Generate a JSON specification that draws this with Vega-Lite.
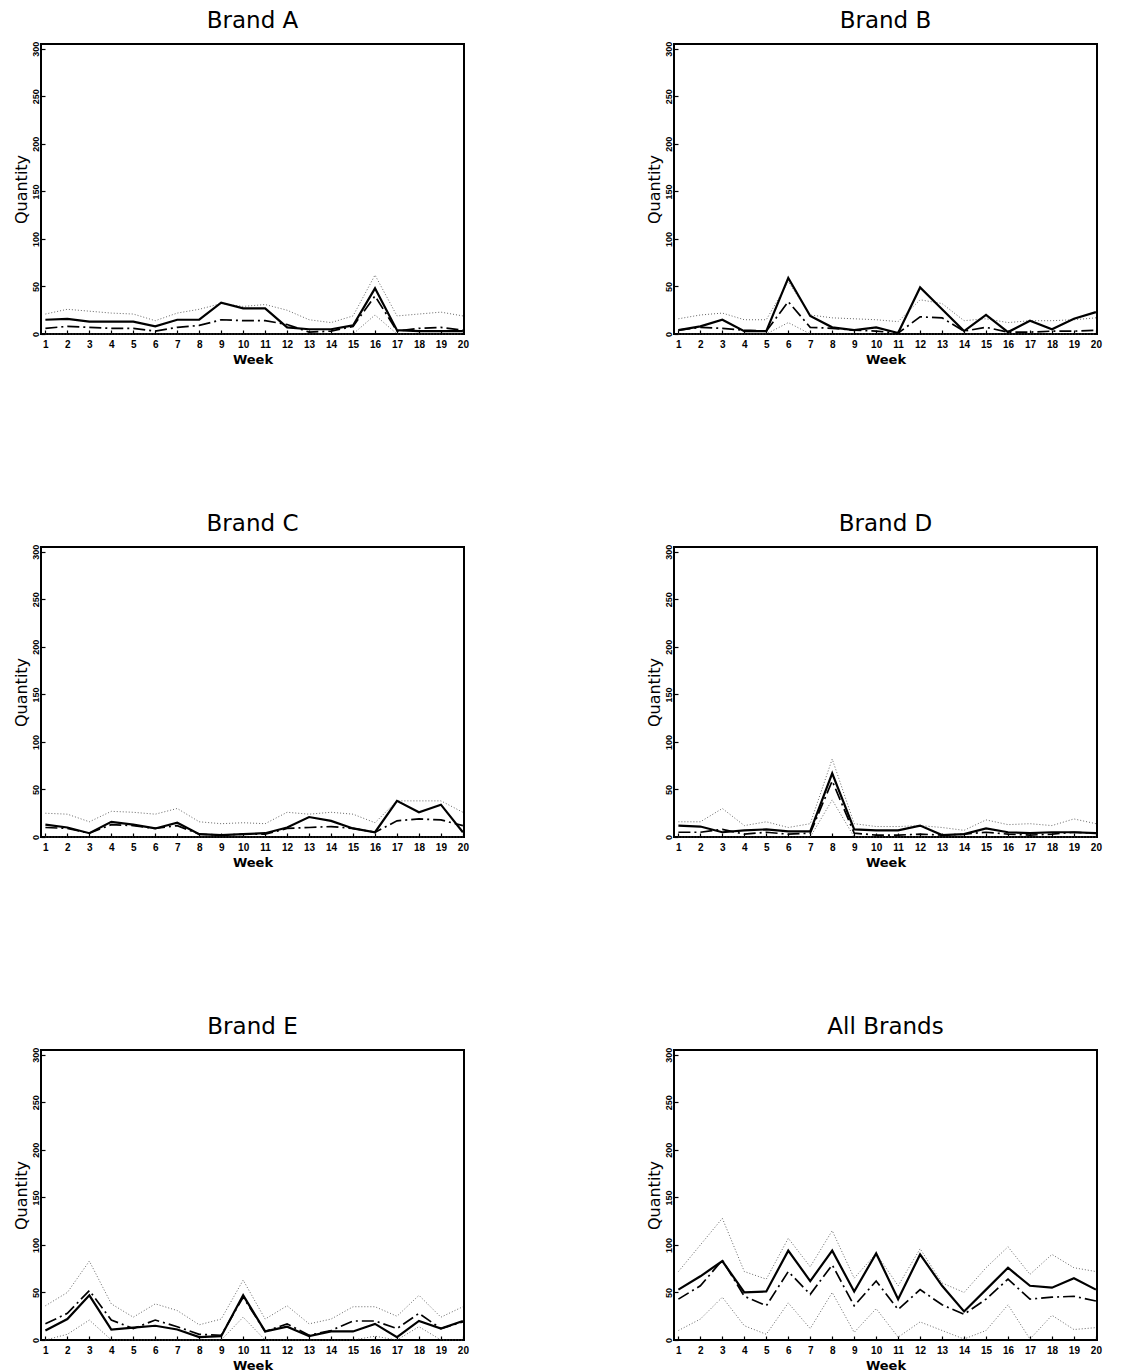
{
  "$schema": "https://vega.github.io/schema/vega-lite/v6.json",
  "background": "white",
  "padding": {"left": 12, "top": 9, "right": 5, "bottom": 1},
  "columns": 2,
  "spacing": {"row": 145, "column": 175},
  "datasets": {
    "series": [
      {"brand":"A","week":1,"actual":15,"forecast":6,"upper":21,"lower":0},
      {"brand":"A","week":2,"actual":16,"forecast":8,"upper":26,"lower":0},
      {"brand":"A","week":3,"actual":13,"forecast":7,"upper":24,"lower":0},
      {"brand":"A","week":4,"actual":13,"forecast":6,"upper":22,"lower":0},
      {"brand":"A","week":5,"actual":13,"forecast":6,"upper":21,"lower":0},
      {"brand":"A","week":6,"actual":8,"forecast":3,"upper":14,"lower":0},
      {"brand":"A","week":7,"actual":15,"forecast":7,"upper":22,"lower":0},
      {"brand":"A","week":8,"actual":15,"forecast":9,"upper":26,"lower":0},
      {"brand":"A","week":9,"actual":33,"forecast":15,"upper":32,"lower":0},
      {"brand":"A","week":10,"actual":27,"forecast":14,"upper":29,"lower":0},
      {"brand":"A","week":11,"actual":27,"forecast":14,"upper":31,"lower":0},
      {"brand":"A","week":12,"actual":7,"forecast":10,"upper":25,"lower":0},
      {"brand":"A","week":13,"actual":5,"forecast":2,"upper":15,"lower":0},
      {"brand":"A","week":14,"actual":5,"forecast":3,"upper":12,"lower":0},
      {"brand":"A","week":15,"actual":9,"forecast":8,"upper":19,"lower":0},
      {"brand":"A","week":16,"actual":48,"forecast":40,"upper":62,"lower":20},
      {"brand":"A","week":17,"actual":4,"forecast":3,"upper":19,"lower":0},
      {"brand":"A","week":18,"actual":3,"forecast":6,"upper":21,"lower":0},
      {"brand":"A","week":19,"actual":3,"forecast":7,"upper":23,"lower":0},
      {"brand":"A","week":20,"actual":3,"forecast":4,"upper":19,"lower":0},
      {"brand":"B","week":1,"actual":4,"forecast":4,"upper":16,"lower":0},
      {"brand":"B","week":2,"actual":8,"forecast":7,"upper":20,"lower":0},
      {"brand":"B","week":3,"actual":15,"forecast":6,"upper":22,"lower":0},
      {"brand":"B","week":4,"actual":3,"forecast":4,"upper":15,"lower":0},
      {"brand":"B","week":5,"actual":3,"forecast":3,"upper":15,"lower":0},
      {"brand":"B","week":6,"actual":59,"forecast":34,"upper":55,"lower":12},
      {"brand":"B","week":7,"actual":19,"forecast":7,"upper":20,"lower":0},
      {"brand":"B","week":8,"actual":7,"forecast":6,"upper":17,"lower":0},
      {"brand":"B","week":9,"actual":4,"forecast":4,"upper":16,"lower":0},
      {"brand":"B","week":10,"actual":7,"forecast":3,"upper":15,"lower":0},
      {"brand":"B","week":11,"actual":1,"forecast":1,"upper":13,"lower":0},
      {"brand":"B","week":12,"actual":49,"forecast":18,"upper":36,"lower":0},
      {"brand":"B","week":13,"actual":26,"forecast":17,"upper":32,"lower":0},
      {"brand":"B","week":14,"actual":3,"forecast":3,"upper":14,"lower":0},
      {"brand":"B","week":15,"actual":20,"forecast":7,"upper":16,"lower":0},
      {"brand":"B","week":16,"actual":2,"forecast":2,"upper":12,"lower":0},
      {"brand":"B","week":17,"actual":14,"forecast":2,"upper":14,"lower":0},
      {"brand":"B","week":18,"actual":5,"forecast":3,"upper":14,"lower":0},
      {"brand":"B","week":19,"actual":16,"forecast":3,"upper":15,"lower":0},
      {"brand":"B","week":20,"actual":23,"forecast":4,"upper":17,"lower":0},
      {"brand":"C","week":1,"actual":13,"forecast":10,"upper":25,"lower":0},
      {"brand":"C","week":2,"actual":10,"forecast":9,"upper":24,"lower":0},
      {"brand":"C","week":3,"actual":4,"forecast":4,"upper":16,"lower":0},
      {"brand":"C","week":4,"actual":16,"forecast":13,"upper":27,"lower":0},
      {"brand":"C","week":5,"actual":13,"forecast":12,"upper":26,"lower":0},
      {"brand":"C","week":6,"actual":9,"forecast":9,"upper":24,"lower":0},
      {"brand":"C","week":7,"actual":15,"forecast":12,"upper":30,"lower":0},
      {"brand":"C","week":8,"actual":3,"forecast":3,"upper":16,"lower":0},
      {"brand":"C","week":9,"actual":2,"forecast":2,"upper":14,"lower":0},
      {"brand":"C","week":10,"actual":3,"forecast":3,"upper":15,"lower":0},
      {"brand":"C","week":11,"actual":4,"forecast":3,"upper":14,"lower":0},
      {"brand":"C","week":12,"actual":10,"forecast":9,"upper":26,"lower":0},
      {"brand":"C","week":13,"actual":21,"forecast":10,"upper":24,"lower":0},
      {"brand":"C","week":14,"actual":17,"forecast":11,"upper":26,"lower":0},
      {"brand":"C","week":15,"actual":9,"forecast":9,"upper":24,"lower":0},
      {"brand":"C","week":16,"actual":5,"forecast":5,"upper":15,"lower":0},
      {"brand":"C","week":17,"actual":38,"forecast":17,"upper":38,"lower":0},
      {"brand":"C","week":18,"actual":26,"forecast":19,"upper":38,"lower":0},
      {"brand":"C","week":19,"actual":34,"forecast":18,"upper":38,"lower":0},
      {"brand":"C","week":20,"actual":5,"forecast":12,"upper":26,"lower":0},
      {"brand":"D","week":1,"actual":12,"forecast":5,"upper":16,"lower":0},
      {"brand":"D","week":2,"actual":11,"forecast":5,"upper":16,"lower":0},
      {"brand":"D","week":3,"actual":5,"forecast":8,"upper":30,"lower":0},
      {"brand":"D","week":4,"actual":7,"forecast":3,"upper":12,"lower":0},
      {"brand":"D","week":5,"actual":8,"forecast":5,"upper":16,"lower":0},
      {"brand":"D","week":6,"actual":6,"forecast":3,"upper":10,"lower":0},
      {"brand":"D","week":7,"actual":6,"forecast":4,"upper":14,"lower":0},
      {"brand":"D","week":8,"actual":67,"forecast":59,"upper":82,"lower":39},
      {"brand":"D","week":9,"actual":8,"forecast":4,"upper":14,"lower":0},
      {"brand":"D","week":10,"actual":7,"forecast":2,"upper":11,"lower":0},
      {"brand":"D","week":11,"actual":7,"forecast":2,"upper":11,"lower":0},
      {"brand":"D","week":12,"actual":12,"forecast":3,"upper":12,"lower":0},
      {"brand":"D","week":13,"actual":2,"forecast":2,"upper":10,"lower":0},
      {"brand":"D","week":14,"actual":3,"forecast":3,"upper":7,"lower":0},
      {"brand":"D","week":15,"actual":9,"forecast":5,"upper":18,"lower":0},
      {"brand":"D","week":16,"actual":5,"forecast":3,"upper":13,"lower":0},
      {"brand":"D","week":17,"actual":4,"forecast":2,"upper":14,"lower":0},
      {"brand":"D","week":18,"actual":5,"forecast":3,"upper":12,"lower":0},
      {"brand":"D","week":19,"actual":5,"forecast":5,"upper":19,"lower":0},
      {"brand":"D","week":20,"actual":4,"forecast":4,"upper":14,"lower":0},
      {"brand":"E","week":1,"actual":10,"forecast":17,"upper":36,"lower":0},
      {"brand":"E","week":2,"actual":22,"forecast":28,"upper":50,"lower":6},
      {"brand":"E","week":3,"actual":47,"forecast":52,"upper":83,"lower":21},
      {"brand":"E","week":4,"actual":11,"forecast":21,"upper":38,"lower":0},
      {"brand":"E","week":5,"actual":13,"forecast":12,"upper":24,"lower":0},
      {"brand":"E","week":6,"actual":15,"forecast":21,"upper":38,"lower":0},
      {"brand":"E","week":7,"actual":11,"forecast":14,"upper":31,"lower":0},
      {"brand":"E","week":8,"actual":3,"forecast":6,"upper":16,"lower":0},
      {"brand":"E","week":9,"actual":4,"forecast":5,"upper":22,"lower":0},
      {"brand":"E","week":10,"actual":47,"forecast":45,"upper":63,"lower":24},
      {"brand":"E","week":11,"actual":9,"forecast":9,"upper":22,"lower":0},
      {"brand":"E","week":12,"actual":14,"forecast":17,"upper":36,"lower":0},
      {"brand":"E","week":13,"actual":4,"forecast":5,"upper":17,"lower":0},
      {"brand":"E","week":14,"actual":9,"forecast":10,"upper":22,"lower":0},
      {"brand":"E","week":15,"actual":9,"forecast":20,"upper":35,"lower":0},
      {"brand":"E","week":16,"actual":17,"forecast":20,"upper":35,"lower":4},
      {"brand":"E","week":17,"actual":3,"forecast":12,"upper":25,"lower":0},
      {"brand":"E","week":18,"actual":20,"forecast":28,"upper":47,"lower":14},
      {"brand":"E","week":19,"actual":12,"forecast":12,"upper":24,"lower":0},
      {"brand":"E","week":20,"actual":20,"forecast":19,"upper":35,"lower":0},
      {"brand":"All","week":1,"actual":53,"forecast":43,"upper":72,"lower":10},
      {"brand":"All","week":2,"actual":67,"forecast":57,"upper":100,"lower":22},
      {"brand":"All","week":3,"actual":83,"forecast":84,"upper":128,"lower":45},
      {"brand":"All","week":4,"actual":50,"forecast":46,"upper":72,"lower":15},
      {"brand":"All","week":5,"actual":51,"forecast":36,"upper":64,"lower":6},
      {"brand":"All","week":6,"actual":94,"forecast":72,"upper":107,"lower":39},
      {"brand":"All","week":7,"actual":62,"forecast":48,"upper":77,"lower":12},
      {"brand":"All","week":8,"actual":94,"forecast":79,"upper":115,"lower":50},
      {"brand":"All","week":9,"actual":51,"forecast":36,"upper":65,"lower":8},
      {"brand":"All","week":10,"actual":91,"forecast":62,"upper":91,"lower":33},
      {"brand":"All","week":11,"actual":43,"forecast":32,"upper":57,"lower":3},
      {"brand":"All","week":12,"actual":90,"forecast":53,"upper":96,"lower":19},
      {"brand":"All","week":13,"actual":57,"forecast":37,"upper":60,"lower":10},
      {"brand":"All","week":14,"actual":30,"forecast":27,"upper":50,"lower":1},
      {"brand":"All","week":15,"actual":53,"forecast":43,"upper":76,"lower":10},
      {"brand":"All","week":16,"actual":76,"forecast":64,"upper":98,"lower":37},
      {"brand":"All","week":17,"actual":57,"forecast":43,"upper":69,"lower":1},
      {"brand":"All","week":18,"actual":55,"forecast":45,"upper":90,"lower":26},
      {"brand":"All","week":19,"actual":65,"forecast":46,"upper":76,"lower":11},
      {"brand":"All","week":20,"actual":53,"forecast":41,"upper":72,"lower":13}
    ],
    "msse": [
      {"brand":"A","label":"MSSE:57.53"},
      {"brand":"B","label":"MSSE:124.58"},
      {"brand":"C","label":"MSSE:44.37"},
      {"brand":"D","label":"MSSE:23.95"},
      {"brand":"E","label":"MSSE:39.97"},
      {"brand":"All","label":"MSSE:130.07"}
    ]
  },
  "concat": [
    {"title":"Brand A","width":423,"height":290,
     "data":{"name":"series"},"transform":[{"filter":"datum.brand === 'A'"}],
     "encoding":{"x":{"field":"week","type":"quantitative","title":"Week","scale":{"domain":[0.8,20.05],"nice":false,"zero":false},"axis":{"values":[1,2,3,4,5,6,7,8,9,10,11,12,13,14,15,16,17,18,19,20]}}},
     "layer":[
      {"mark":{"type":"line","color":"#555555","strokeWidth":0.9,"strokeDash":[1,2]},"encoding":{"y":{"field":"upper","type":"quantitative","title":"Quantity","scale":{"domain":[0,305],"nice":false},"axis":{"values":[0,50,100,150,200,250,300]}}}},
      {"mark":{"type":"line","color":"#555555","strokeWidth":0.9,"strokeDash":[1,2]},"encoding":{"y":{"field":"lower","type":"quantitative","title":"Quantity"}}},
      {"mark":{"type":"line","color":"black","strokeWidth":1.7,"strokeDash":[12,4,2,4]},"encoding":{"y":{"field":"forecast","type":"quantitative","title":"Quantity"}}},
      {"mark":{"type":"line","color":"black","strokeWidth":2.2},"encoding":{"y":{"field":"actual","type":"quantitative","title":"Quantity"}}},
      {"data":{"name":"msse"},"transform":[{"filter":"datum.brand === 'A'"}],
       "mark":{"type":"text","align":"left","baseline":"middle","font":"DejaVu Sans","fontWeight":"bold","fontSize":9.5,"color":"black"},
       "encoding":{"x":{"datum":1.62,"type":"quantitative"},"y":{"datum":283,"type":"quantitative"},"text":{"field":"label"}}}
     ]},
    {"title":"Brand B","width":423,"height":290,
     "data":{"name":"series"},"transform":[{"filter":"datum.brand === 'B'"}],
     "encoding":{"x":{"field":"week","type":"quantitative","title":"Week","scale":{"domain":[0.8,20.05],"nice":false,"zero":false},"axis":{"values":[1,2,3,4,5,6,7,8,9,10,11,12,13,14,15,16,17,18,19,20]}}},
     "layer":[
      {"mark":{"type":"line","color":"#555555","strokeWidth":0.9,"strokeDash":[1,2]},"encoding":{"y":{"field":"upper","type":"quantitative","title":"Quantity","scale":{"domain":[0,305],"nice":false},"axis":{"values":[0,50,100,150,200,250,300]}}}},
      {"mark":{"type":"line","color":"#555555","strokeWidth":0.9,"strokeDash":[1,2]},"encoding":{"y":{"field":"lower","type":"quantitative","title":"Quantity"}}},
      {"mark":{"type":"line","color":"black","strokeWidth":1.7,"strokeDash":[12,4,2,4]},"encoding":{"y":{"field":"forecast","type":"quantitative","title":"Quantity"}}},
      {"mark":{"type":"line","color":"black","strokeWidth":2.2},"encoding":{"y":{"field":"actual","type":"quantitative","title":"Quantity"}}},
      {"data":{"name":"msse"},"transform":[{"filter":"datum.brand === 'B'"}],
       "mark":{"type":"text","align":"left","baseline":"middle","font":"DejaVu Sans","fontWeight":"bold","fontSize":9.5,"color":"black"},
       "encoding":{"x":{"datum":1.62,"type":"quantitative"},"y":{"datum":283,"type":"quantitative"},"text":{"field":"label"}}}
     ]},
    {"title":"Brand C","width":423,"height":290,
     "data":{"name":"series"},"transform":[{"filter":"datum.brand === 'C'"}],
     "encoding":{"x":{"field":"week","type":"quantitative","title":"Week","scale":{"domain":[0.8,20.05],"nice":false,"zero":false},"axis":{"values":[1,2,3,4,5,6,7,8,9,10,11,12,13,14,15,16,17,18,19,20]}}},
     "layer":[
      {"mark":{"type":"line","color":"#555555","strokeWidth":0.9,"strokeDash":[1,2]},"encoding":{"y":{"field":"upper","type":"quantitative","title":"Quantity","scale":{"domain":[0,305],"nice":false},"axis":{"values":[0,50,100,150,200,250,300]}}}},
      {"mark":{"type":"line","color":"#555555","strokeWidth":0.9,"strokeDash":[1,2]},"encoding":{"y":{"field":"lower","type":"quantitative","title":"Quantity"}}},
      {"mark":{"type":"line","color":"black","strokeWidth":1.7,"strokeDash":[12,4,2,4]},"encoding":{"y":{"field":"forecast","type":"quantitative","title":"Quantity"}}},
      {"mark":{"type":"line","color":"black","strokeWidth":2.2},"encoding":{"y":{"field":"actual","type":"quantitative","title":"Quantity"}}},
      {"data":{"name":"msse"},"transform":[{"filter":"datum.brand === 'C'"}],
       "mark":{"type":"text","align":"left","baseline":"middle","font":"DejaVu Sans","fontWeight":"bold","fontSize":9.5,"color":"black"},
       "encoding":{"x":{"datum":1.62,"type":"quantitative"},"y":{"datum":283,"type":"quantitative"},"text":{"field":"label"}}}
     ]},
    {"title":"Brand D","width":423,"height":290,
     "data":{"name":"series"},"transform":[{"filter":"datum.brand === 'D'"}],
     "encoding":{"x":{"field":"week","type":"quantitative","title":"Week","scale":{"domain":[0.8,20.05],"nice":false,"zero":false},"axis":{"values":[1,2,3,4,5,6,7,8,9,10,11,12,13,14,15,16,17,18,19,20]}}},
     "layer":[
      {"mark":{"type":"line","color":"#555555","strokeWidth":0.9,"strokeDash":[1,2]},"encoding":{"y":{"field":"upper","type":"quantitative","title":"Quantity","scale":{"domain":[0,305],"nice":false},"axis":{"values":[0,50,100,150,200,250,300]}}}},
      {"mark":{"type":"line","color":"#555555","strokeWidth":0.9,"strokeDash":[1,2]},"encoding":{"y":{"field":"lower","type":"quantitative","title":"Quantity"}}},
      {"mark":{"type":"line","color":"black","strokeWidth":1.7,"strokeDash":[12,4,2,4]},"encoding":{"y":{"field":"forecast","type":"quantitative","title":"Quantity"}}},
      {"mark":{"type":"line","color":"black","strokeWidth":2.2},"encoding":{"y":{"field":"actual","type":"quantitative","title":"Quantity"}}},
      {"data":{"name":"msse"},"transform":[{"filter":"datum.brand === 'D'"}],
       "mark":{"type":"text","align":"left","baseline":"middle","font":"DejaVu Sans","fontWeight":"bold","fontSize":9.5,"color":"black"},
       "encoding":{"x":{"datum":1.62,"type":"quantitative"},"y":{"datum":283,"type":"quantitative"},"text":{"field":"label"}}}
     ]},
    {"title":"Brand E","width":423,"height":290,
     "data":{"name":"series"},"transform":[{"filter":"datum.brand === 'E'"}],
     "encoding":{"x":{"field":"week","type":"quantitative","title":"Week","scale":{"domain":[0.8,20.05],"nice":false,"zero":false},"axis":{"values":[1,2,3,4,5,6,7,8,9,10,11,12,13,14,15,16,17,18,19,20]}}},
     "layer":[
      {"mark":{"type":"line","color":"#555555","strokeWidth":0.9,"strokeDash":[1,2]},"encoding":{"y":{"field":"upper","type":"quantitative","title":"Quantity","scale":{"domain":[0,305],"nice":false},"axis":{"values":[0,50,100,150,200,250,300]}}}},
      {"mark":{"type":"line","color":"#555555","strokeWidth":0.9,"strokeDash":[1,2]},"encoding":{"y":{"field":"lower","type":"quantitative","title":"Quantity"}}},
      {"mark":{"type":"line","color":"black","strokeWidth":1.7,"strokeDash":[12,4,2,4]},"encoding":{"y":{"field":"forecast","type":"quantitative","title":"Quantity"}}},
      {"mark":{"type":"line","color":"black","strokeWidth":2.2},"encoding":{"y":{"field":"actual","type":"quantitative","title":"Quantity"}}},
      {"data":{"name":"msse"},"transform":[{"filter":"datum.brand === 'E'"}],
       "mark":{"type":"text","align":"left","baseline":"middle","font":"DejaVu Sans","fontWeight":"bold","fontSize":9.5,"color":"black"},
       "encoding":{"x":{"datum":1.62,"type":"quantitative"},"y":{"datum":283,"type":"quantitative"},"text":{"field":"label"}}}
     ]},
    {"title":"All Brands","width":423,"height":290,
     "data":{"name":"series"},"transform":[{"filter":"datum.brand === 'All'"}],
     "encoding":{"x":{"field":"week","type":"quantitative","title":"Week","scale":{"domain":[0.8,20.05],"nice":false,"zero":false},"axis":{"values":[1,2,3,4,5,6,7,8,9,10,11,12,13,14,15,16,17,18,19,20]}}},
     "layer":[
      {"mark":{"type":"line","color":"#555555","strokeWidth":0.9,"strokeDash":[1,2]},"encoding":{"y":{"field":"upper","type":"quantitative","title":"Quantity","scale":{"domain":[0,305],"nice":false},"axis":{"values":[0,50,100,150,200,250,300]}}}},
      {"mark":{"type":"line","color":"#555555","strokeWidth":0.9,"strokeDash":[1,2]},"encoding":{"y":{"field":"lower","type":"quantitative","title":"Quantity"}}},
      {"mark":{"type":"line","color":"black","strokeWidth":1.7,"strokeDash":[12,4,2,4]},"encoding":{"y":{"field":"forecast","type":"quantitative","title":"Quantity"}}},
      {"mark":{"type":"line","color":"black","strokeWidth":2.2},"encoding":{"y":{"field":"actual","type":"quantitative","title":"Quantity"}}},
      {"data":{"name":"msse"},"transform":[{"filter":"datum.brand === 'All'"}],
       "mark":{"type":"text","align":"left","baseline":"middle","font":"DejaVu Sans","fontWeight":"bold","fontSize":9.5,"color":"black"},
       "encoding":{"x":{"datum":1.62,"type":"quantitative"},"y":{"datum":283,"type":"quantitative"},"text":{"field":"label"}}}
     ]}
  ],
  "config": {
    "view": {"stroke": "black", "strokeWidth": 2},
    "axis": {"domain": false, "grid": false, "labelFont": "Liberation Sans", "labelFontWeight": "bold", "labelFontSize": 9, "labelColor": "black", "labelOverlap": false, "tickColor": "black", "tickSize": -4, "tickWidth": 1.2, "titleColor": "black"},
    "axisX": {"titleFont": "DejaVu Sans", "titleFontWeight": "bold", "titleFontSize": 13, "labelFontSize": 10, "labelPadding": 9, "titlePadding": 4},
    "axisY": {"titleFont": "DejaVu Sans", "titleFontWeight": "normal", "titleFontSize": 16, "labelAngle": -90, "labelPadding": 5, "titlePadding": 2},
    "title": {"font": "DejaVu Sans", "fontSize": 23, "fontWeight": "normal", "color": "black", "offset": 8}
  }
}
